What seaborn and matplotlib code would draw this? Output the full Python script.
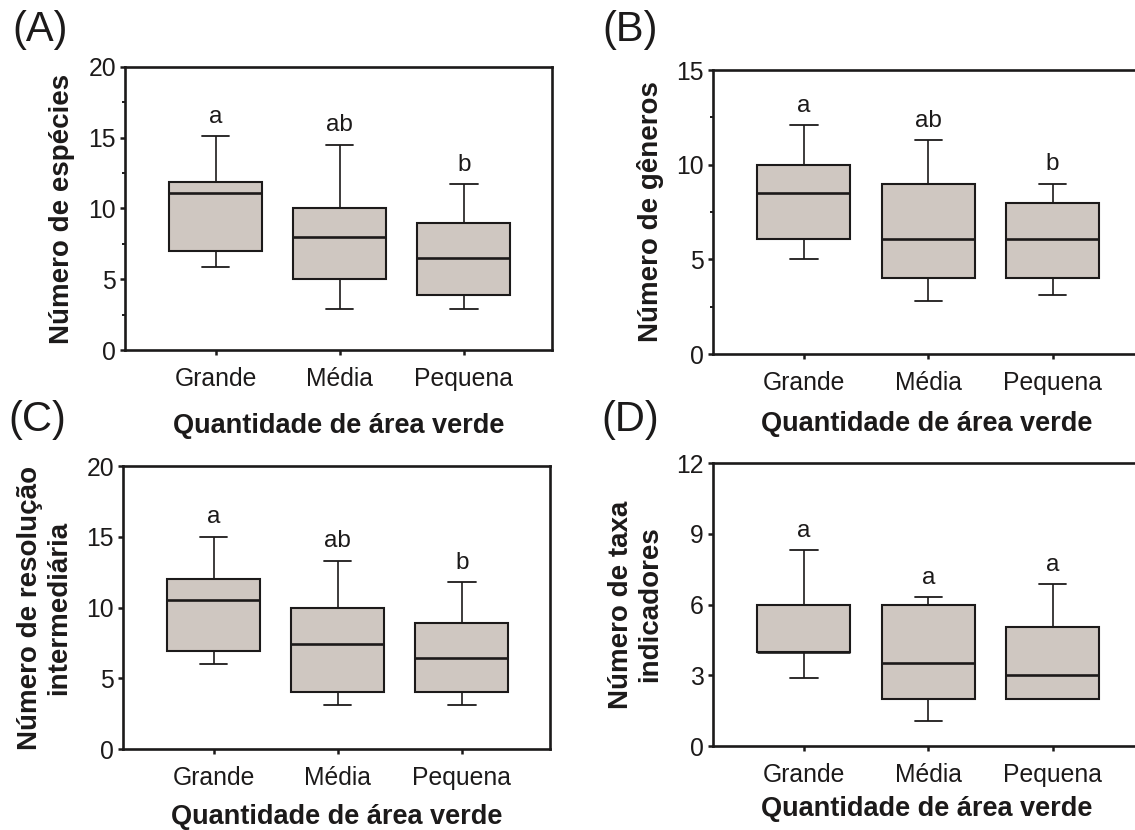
import numpy as np
import pandas as pd
import matplotlib
matplotlib.use("Agg")
import matplotlib.pyplot as plt
from matplotlib.ticker import MultipleLocator
import seaborn as sns

# Green-area classes
areas = ["Grande", "Média", "Pequena"]

# Five-number summaries per class: [min, Q1, median, Q3, max]
especies_grande = [5.9, 7.0, 11.1, 11.9, 15.1]
especies_media = [2.9, 5.0, 8.0, 10.0, 14.5]
especies_pequena = [2.9, 3.9, 6.5, 9.0, 11.7]

generos_grande = [5.0, 6.1, 8.5, 10.0, 12.1]
generos_media = [2.8, 4.0, 6.1, 9.0, 11.3]
generos_pequena = [3.1, 4.0, 6.1, 8.0, 9.0]

resolucao_grande = [6.0, 6.9, 10.5, 12.0, 15.0]
resolucao_media = [3.1, 4.0, 7.4, 10.0, 13.3]
resolucao_pequena = [3.1, 4.0, 6.4, 8.9, 11.8]

indicadores_grande = [2.9, 4.0, 4.0, 6.0, 8.3]
indicadores_media = [1.05, 2.0, 3.5, 6.0, 6.3]
indicadores_pequena = [2.0, 2.0, 3.0, 5.05, 6.85]

# Significance letters
letras_especies = ["a", "ab", "b"]
letras_generos = ["a", "ab", "b"]
letras_resolucao = ["a", "ab", "b"]
letras_indicadores = ["a", "a", "a"]

ylabels = ["Número de espécies", "Número de gêneros",
           "Número de resolução\nintermediária", "Número de taxa\nindicadores"]
panel_tags = ["(A)", "(B)", "(C)", "(D)"]
xlabel = "Quantidade de área verde"

sns.set_theme(style="ticks")
plt.rcParams["font.family"] = ["Liberation Sans", "DejaVu Sans"]

INK = "#1c1a1a"
FILL = "#cfc7c1"
W, H = 1135, 830

fig = plt.figure(figsize=(W / 100, H / 100), dpi=100)


def px_rect(left, right, top, bottom):
    return [left / W, (H - bottom) / H, (right - left) / W, (bottom - top) / H]


panels = [
    dict(rect=px_rect(125, 552, 67, 350), groups=[especies_grande, especies_media, especies_pequena],
         letters=letras_especies, ylim=20, major=5, minor=2.5, ylab_x=-0.147, xlab_y=-0.268,
         tag_xy=(40, 30)),
    dict(rect=px_rect(713, 1141, 70, 354), groups=[generos_grande, generos_media, generos_pequena],
         letters=letras_generos, ylim=15, major=5, minor=2.5, ylab_x=-0.145, xlab_y=-0.248,
         tag_xy=(630, 30)),
    dict(rect=px_rect(123, 550, 466, 749), groups=[resolucao_grande, resolucao_media, resolucao_pequena],
         letters=letras_resolucao, ylim=20, major=5, minor=None, ylab_x=-0.183, xlab_y=-0.24,
         tag_xy=(37, 420)),
    dict(rect=px_rect(713, 1141, 463, 746), groups=[indicadores_grande, indicadores_media, indicadores_pequena],
         letters=letras_indicadores, ylim=12, major=3, minor=None, ylab_x=-0.18, xlab_y=-0.222,
         tag_xy=(630, 420)),
]

for p, ylab, tag in zip(panels, ylabels, panel_tags):
    ax = fig.add_axes(p["rect"])
    df = pd.DataFrame({
        "area": np.repeat(areas, [len(g) for g in p["groups"]]),
        "valor": np.concatenate(p["groups"]),
    })
    sns.boxplot(
        data=df, x="area", y="valor", order=areas, ax=ax,
        color=FILL, saturation=1, width=0.75, whis=(0, 100),
        linecolor=INK, linewidth=1.5, showfliers=False,
        medianprops=dict(linewidth=1.9, color=INK),
        whiskerprops=dict(linewidth=1.2, color=INK),
        capprops=dict(linewidth=1.3, color=INK),
        capwidths=0.22,
    )

    # group letters just above the upper whisker
    for i, (g, letter) in enumerate(zip(p["groups"], p["letters"])):
        ax.annotate(letter, xy=(i, max(g)), xytext=(0, 6), textcoords="offset points",
                    ha="center", va="bottom", fontsize=17.5, color=INK)

    ax.set_xlim(-0.73, 2.71)
    ax.set_ylim(0, p["ylim"])
    ax.yaxis.set_major_locator(MultipleLocator(p["major"]))
    if p["minor"]:
        ax.yaxis.set_minor_locator(MultipleLocator(p["minor"]))
    ax.tick_params(axis="both", which="major", direction="out", length=3.5, width=1.8,
                   color=INK, labelcolor=INK, labelsize=17.8)
    ax.tick_params(axis="y", which="major", pad=3)
    ax.tick_params(axis="x", which="major", pad=8.5)
    ax.tick_params(axis="y", which="minor", direction="out", length=2, width=1.4, color=INK)
    ax.tick_params(top=False, right=False)
    for side in ["left", "right", "top", "bottom"]:
        ax.spines[side].set_visible(True)
        ax.spines[side].set_linewidth(1.9)
        ax.spines[side].set_color(INK)

    ax.set_ylabel(ylab, fontsize=20, fontweight="bold", color=INK, linespacing=1.15,
                  multialignment="center")
    ax.yaxis.label.set_va("center")
    ax.yaxis.set_label_coords(p["ylab_x"], 0.5)
    ax.set_xlabel(xlabel, fontsize=19.5, fontweight="bold", color=INK)
    ax.xaxis.label.set_va("center")
    ax.xaxis.set_label_coords(0.5, p["xlab_y"])

    fig.text(p["tag_xy"][0] / W, 1 - p["tag_xy"][1] / H, tag,
             ha="center", va="center", fontsize=30, color=INK)

fig.savefig("out.png", dpi=100, facecolor="white")
